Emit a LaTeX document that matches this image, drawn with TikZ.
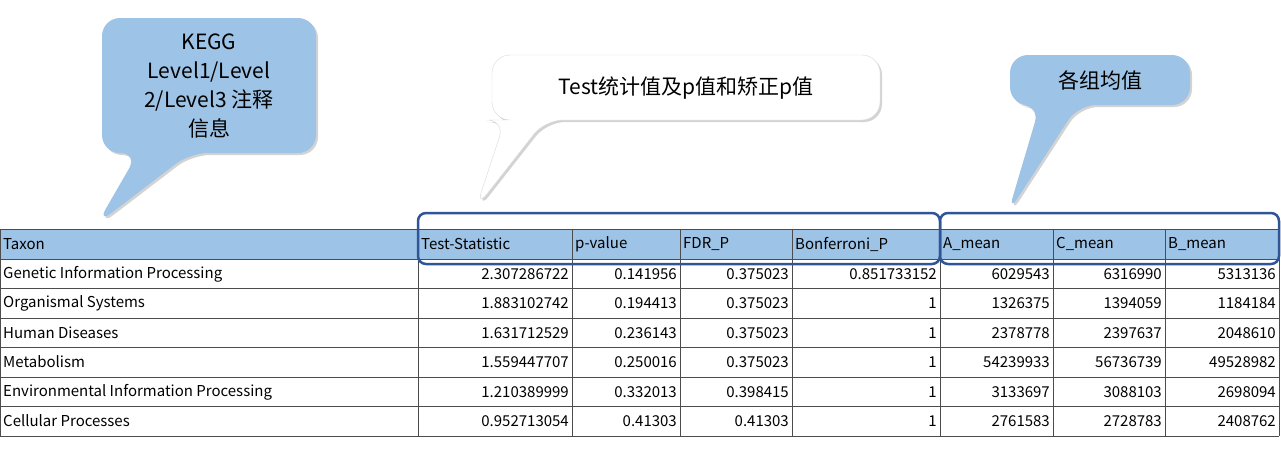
\documentclass[tikz,border=0pt]{standalone}
\usepackage{fontspec}
\setmainfont{Noto Sans CJK SC}
\usetikzlibrary{shadows}
\definecolor{callblue}{HTML}{9DC3E6}
\definecolor{frameblue}{HTML}{2F5597}
\tikzset{
  cell/.style={inner sep=3pt,font=\fontsize{15}{17}\selectfont},
  bubble/.style={rounded corners=18pt,drop shadow={shadow xshift=2pt,shadow yshift=-2pt,opacity=0.35}},
  calltext/.style={align=center,font=\fontsize{21}{29}\selectfont}
}
\begin{document}
\begin{tikzpicture}[x=1pt,y=-1pt]
  \useasboundingbox (0,0) rectangle (1281,450);
  % header row
  \fill[callblue] (0,229) rectangle (1279,259);
  \foreach \y in {229,259,288,318,347,377,406,436}
    \draw[black!70] (0,\y) -- (1279,\y);
  \foreach \x in {0,418,572,680,792,940,1053,1165,1279}
    \draw[black!70] (\x,229) -- (\x,436);
  % header texts
  \foreach \x/\t [count=\i] in {0/Taxon,418/Test-Statistic,572/p-value,680/FDR\_P,792/Bonferroni\_P,940/A\_mean,1053/C\_mean,1165/B\_mean}
    \node[cell,anchor=west] (h\i) at (\x,244) {\t};
  % body rows
  \foreach \y/\tx/\ts/\pv/\fd/\bf/\am/\cm/\bm [count=\r] in {
    274/Genetic Information Processing/2.307286722/0.141956/0.375023/0.851733152/6029543/6316990/5313136,
    303/Organismal Systems/1.883102742/0.194413/0.375023/1/1326375/1394059/1184184,
    333/Human Diseases/1.631712529/0.236143/0.375023/1/2378778/2397637/2048610,
    362/Metabolism/1.559447707/0.250016/0.375023/1/54239933/56736739/49528982,
    392/Environmental Information Processing/1.210389999/0.332013/0.398415/1/3133697/3088103/2698094,
    421/Cellular Processes/0.952713054/0.41303/0.41303/1/2761583/2728783/2408762}{
    \node[cell,anchor=west] (t\r) at (0,\y) {\tx};
    \node[cell,anchor=east] (s\r) at (572,\y) {\ts};
    \node[cell,anchor=east] (p\r) at (680,\y) {\pv};
    \node[cell,anchor=east] (f\r) at (792,\y) {\fd};
    \node[cell,anchor=east] (b\r) at (940,\y) {\bf};
    \node[cell,anchor=east] (a\r) at (1053,\y) {\am};
    \node[cell,anchor=east] (c\r) at (1165,\y) {\cm};
    \node[cell,anchor=east] (m\r) at (1279,\y) {\bm};
  }
  % frames
  \draw[frameblue,line width=2.5pt,rounded corners=8pt] (418,213) rectangle (940,264);
  \draw[frameblue,line width=2.5pt,rounded corners=8pt] (940,213) rectangle (1279,264);
  % callouts
  \fill[callblue,bubble] (102,18) -- (316,18) -- (316,153) -- (190,153) -- (97,224) -- (138,153) -- (102,153) -- cycle;
  \node[calltext] (kegg) at (209,86) {KEGG\\Level1/Level\\2/Level3 注释\\信息};
  \filldraw[fill=white,draw=black!15,bubble] (492,55) -- (880,55) -- (880,120) -- (545,120) -- (476,208) -- (505,120) -- (492,120) -- cycle;
  \node[calltext] (stat) at (686,88) {Test统计值及p值和矫正p值};
  \fill[callblue,bubble] (1010,55) -- (1190,55) -- (1190,105) -- (1078,105) -- (1008,213) -- (1040,105) -- (1010,105) -- cycle;
  \node[calltext] (mean) at (1100,80) {各组均值};
\end{tikzpicture}
\end{document}
